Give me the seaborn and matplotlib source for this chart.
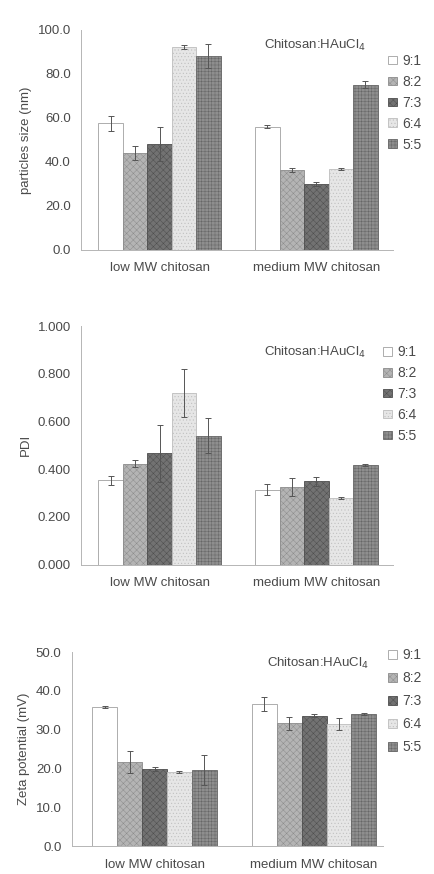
import numpy as np
import pandas as pd
import seaborn as sns
import matplotlib.pyplot as plt
from matplotlib.patches import Patch

groups = ["low MW chitosan", "medium MW chitosan"]
ratios = ["9:1", "8:2", "7:3", "6:4", "5:5"]

# particle size (nm)
size_low = [57.5, 44.0, 48.2, 92.1, 87.9]
size_med = [56.0, 36.4, 30.0, 36.7, 75.0]
size_err_low = [3.5, 3.0, 7.6, 1.0, 5.5]
size_err_med = [0.6, 0.8, 1.0, 0.5, 1.5]

# PDI
pdi_low = [0.353, 0.423, 0.467, 0.718, 0.541]
pdi_med = [0.314, 0.325, 0.349, 0.279, 0.418]
pdi_err_low = [0.020, 0.014, 0.120, 0.100, 0.072]
pdi_err_med = [0.024, 0.038, 0.018, 0.004, 0.005]

# zeta potential (mV)
zeta_low = [35.8, 21.7, 19.8, 19.0, 19.6]
zeta_med = [36.6, 31.6, 33.6, 31.5, 34.1]
zeta_err_low = [0.3, 2.9, 0.5, 0.3, 3.9]
zeta_err_med = [1.7, 1.7, 0.3, 1.5, 0.3]

colors = ["#ffffff", "#b4b4b4", "#727272", "#e6e6e6", "#8e8e8e"]
edges = ["#a0a0a0", "#8c8c8c", "#4e4e4e", "#bdbdbd", "#666666"]
hatches = ["", "xxxxx", "xxxxx", ".....", "+++++"]

sns.set_style("white")
plt.rcParams["font.family"] = ["Liberation Sans", "DejaVu Sans"]
plt.rcParams["hatch.linewidth"] = 0.35
txt = "#4a4a4a"


def panel(ax, low, med, err_low, err_med, ymax, step, fmt, ylabel, xlim,
          note_xy, leg_xy, leg_space, lpad):
    df = pd.DataFrame({
        "group": [groups[0]] * 5 + [groups[1]] * 5,
        "ratio": ratios * 2,
        "value": low + med,
    })
    sns.barplot(data=df, x="group", y="value", hue="ratio", order=groups,
                hue_order=ratios, palette=colors, saturation=1, width=0.78,
                errorbar=None, legend=False, ax=ax)
    bar_sets = list(ax.containers)
    for i, cont in enumerate(bar_sets):
        errs = [err_low[i], err_med[i]]
        xs, ys = [], []
        for bar in cont:
            bar.set_edgecolor(edges[i])
            bar.set_linewidth(0.6)
            bar.set_hatch(hatches[i])
            xs.append(bar.get_x() + bar.get_width() / 2)
            ys.append(bar.get_height())
        ax.errorbar(xs, ys, yerr=errs, fmt="none", ecolor="#555555",
                    elinewidth=0.7, capsize=2.5, capthick=0.7)
    ax.set_ylim(0, ymax)
    ax.set_xlim(*xlim)
    ticks = np.arange(0, ymax + step / 2, step)
    ax.set_yticks(ticks)
    ax.set_yticklabels([fmt.format(v) for v in ticks])
    ax.set_xlabel("")
    ax.set_ylabel(ylabel, color=txt, fontsize=9.5, labelpad=lpad)
    ax.tick_params(axis="y", length=2.5, width=0.6, color="#aaaaaa",
                   labelsize=9.5, labelcolor=txt, pad=5)
    ax.tick_params(axis="x", length=0, labelsize=9.5, labelcolor=txt, pad=9)
    for s in ["top", "right"]:
        ax.spines[s].set_visible(False)
    for s in ["left", "bottom"]:
        ax.spines[s].set_color("#b5b5b5")
        ax.spines[s].set_linewidth(0.7)
    ax.text(note_xy[0], note_xy[1], "Chitosan:HAuCl$_4$", transform=ax.transAxes,
            ha="center", va="center", fontsize=9.5, color=txt)
    handles = [Patch(facecolor=colors[i], edgecolor=edges[i], hatch=hatches[i],
                     linewidth=0.6) for i in range(5)]
    ax.legend(handles, ratios, loc="upper left", bbox_to_anchor=leg_xy,
              frameon=False, fontsize=10, handlelength=0.6, handleheight=0.6,
              handletextpad=0.4, labelspacing=leg_space, borderpad=0,
              borderaxespad=0, labelcolor=txt)


fig = plt.figure(figsize=(4.34, 8.74), dpi=100)
ax1 = fig.add_axes([0.187, 0.714, 0.719, 0.252])
ax2 = fig.add_axes([0.187, 0.354, 0.719, 0.273])
ax3 = fig.add_axes([0.166, 0.032, 0.717, 0.222])

panel(ax1, size_low, size_med, size_err_low, size_err_med, 100, 20, "{:.1f}",
      "particles size (nm)", (-0.5, 1.49), (0.75, 0.93), (0.984, 0.89), 0.5, 4)
panel(ax2, pdi_low, pdi_med, pdi_err_low, pdi_err_med, 1.0, 0.2, "{:.3f}",
      "PDI", (-0.5, 1.49), (0.75, 0.89), (0.968, 0.92), 0.5, 4)
panel(ax3, zeta_low, zeta_med, zeta_err_low, zeta_err_med, 50, 10, "{:.1f}",
      "Zeta potential (mV)", (-0.517, 1.433), (0.79, 0.943), (1.016, 1.02), 0.65, 4)

fig.savefig("out.png", dpi=100, facecolor="white")
